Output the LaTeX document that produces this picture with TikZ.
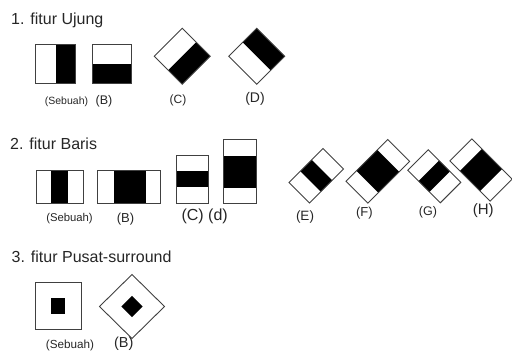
\documentclass[tikz,border=0pt]{standalone}
\usepackage{fontspec}
\setmainfont{Liberation Sans}
\begin{document}
\begin{tikzpicture}[x=1pt,y=-1pt,
  frame/.style={draw=black!75,line width=0.9pt},
  lbl/.style={inner sep=0pt,text=black!85,font=\fontsize{#1}{#1}\selectfont},
  ttl/.style={anchor=base west,inner sep=0pt,text=black!85,font=\fontsize{16}{16}\selectfont}]
\useasboundingbox (0,0) rectangle (512,351);

% ---------- 1. edge features ----------
\node[ttl] (t1) at (11,24.5) {1. fitur Ujung};

% vertical edge
\fill (55.5,44) rectangle (75.7,83.5);
\draw[frame] (35,44) rectangle (75.7,83.5);
% horizontal edge
\fill (92.7,63.5) rectangle (131.7,83.5);
\draw[frame] (92.7,44) rectangle (131.7,83.5);
% tilted edges
\begin{scope}[shift={(182.2,56.2)},x={(0.7071pt,-0.7071pt)},y={(0.7071pt,0.7071pt)}]
  \fill (0,-19.8) -- (19.8,-19.8) -- (19.8,19.8) -- (0,19.8) -- cycle;
  \draw[frame] (-19.8,-19.8) -- (19.8,-19.8) -- (19.8,19.8) -- (-19.8,19.8) -- cycle;
\end{scope}
\begin{scope}[shift={(256.7,56.3)},x={(0.7071pt,0.7071pt)},y={(0.7071pt,-0.7071pt)}]
  \fill (0,-19.8) -- (19.8,-19.8) -- (19.8,19.8) -- (0,19.8) -- cycle;
  \draw[frame] (-19.8,-19.8) -- (19.8,-19.8) -- (19.8,19.8) -- (-19.8,19.8) -- cycle;
\end{scope}

\node[lbl=10.5] (l1a) at (66.5,101.5) {(Sebuah)};
\node[lbl=12.5] (l1b) at (104,101.5) {(B)};
\node[lbl=12] (l1c) at (178,100) {(C)};
\node[lbl=14] (l1d) at (255,99) {(D)};

% ---------- 2. line features ----------
\node[ttl] (t2) at (10,149) {2. fitur Baris};

\fill (51,170) rectangle (68,203);
\draw[frame] (36,170) rectangle (83,203);
\fill (113.5,170) rectangle (145.5,203);
\draw[frame] (97.5,170) rectangle (160.5,203);
\fill (176,171) rectangle (208.5,187);
\draw[frame] (176,155) rectangle (208.5,203);
\fill (223.5,155.5) rectangle (256,188);
\draw[frame] (223.5,139.5) rectangle (256,203);

% tilted lines
\begin{scope}[shift={(316.3,175.8)},x={(0.7071pt,0.7071pt)},y={(0.7071pt,-0.7071pt)}]
  \fill (-8,-14.5) -- (8,-14.5) -- (8,14.5) -- (-8,14.5) -- cycle;
  \draw[frame] (-24,-14.5) -- (24,-14.5) -- (24,14.5) -- (-24,14.5) -- cycle;
\end{scope}
\begin{scope}[shift={(377.8,171.3)},x={(0.7071pt,0.7071pt)},y={(0.7071pt,-0.7071pt)}]
  \fill (-14.8,-15.5) -- (14.8,-15.5) -- (14.8,15.5) -- (-14.8,15.5) -- cycle;
  \draw[frame] (-29.5,-15.5) -- (29.5,-15.5) -- (29.5,15.5) -- (-29.5,15.5) -- cycle;
\end{scope}
\begin{scope}[shift={(434.3,176.3)},x={(0.7071pt,-0.7071pt)},y={(0.7071pt,0.7071pt)}]
  \fill (-7.7,-14.5) -- (7.7,-14.5) -- (7.7,14.5) -- (-7.7,14.5) -- cycle;
  \draw[frame] (-23,-14.5) -- (23,-14.5) -- (23,14.5) -- (-23,14.5) -- cycle;
\end{scope}
\begin{scope}[shift={(481,170)},x={(0.7071pt,-0.7071pt)},y={(0.7071pt,0.7071pt)}]
  \fill (-14.2,-15.5) -- (14.2,-15.5) -- (14.2,15.5) -- (-14.2,15.5) -- cycle;
  \draw[frame] (-28.5,-15.5) -- (28.5,-15.5) -- (28.5,15.5) -- (-28.5,15.5) -- cycle;
\end{scope}

\node[lbl=11.3] (l2a) at (69.5,219) {(Sebuah)};
\node[lbl=13] (l2b) at (125.5,219) {(B)};
\node[lbl=16] (l2c) at (204.7,216.7) {(C) (d)};
\node[lbl=13.5] (l2e) at (305,217.3) {(E)};
\node[lbl=13] (l2f) at (364.3,213.5) {(F)};
\node[lbl=12.5] (l2g) at (428,212.5) {(G)};
\node[lbl=15] (l2h) at (483.3,210.7) {(H)};

% ---------- 3. center-surround features ----------
\node[ttl] (t3) at (11.5,262) {3. fitur Pusat-surround};

\fill (50.7,298.3) rectangle (65,314);
\draw[frame] (35,282.5) rectangle (81,329);
\fill (132,295.8) -- (142.7,306.5) -- (132,317.2) -- (121.3,306.5) -- cycle;
\draw[frame] (132,274.5) -- (164.5,306.5) -- (132,338.5) -- (99.5,306.5) -- cycle;

\node[lbl=11.7] (l3a) at (70,345) {(Sebuah)};
\node[lbl=14.5] (l3b) at (123.8,343.3) {(B)};
\end{tikzpicture}
\end{document}
